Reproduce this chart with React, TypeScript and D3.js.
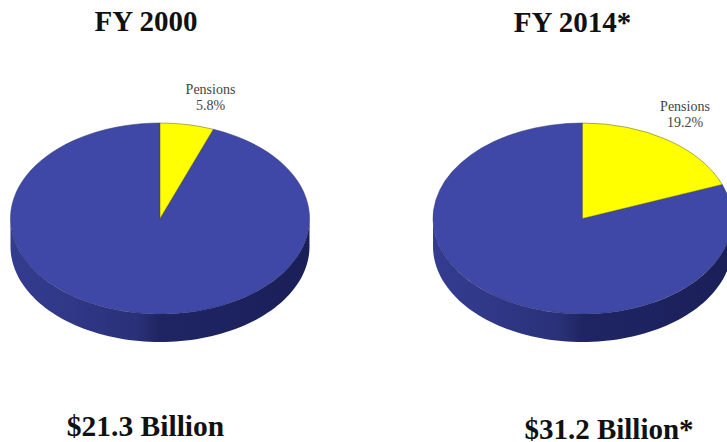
import React from "react";
import * as d3 from "d3";

const W = 727;
const H = 442;

const years = ["FY 2000", "FY 2014*"];
const totals = ["$21.3 Billion", "$31.2 Billion*"];
const sliceName = "Pensions";
const pensionShare = [5.8, 19.2];

const titleX = [146, 572.5];
const titleY = [31, 32];
const totalX = [145.5, 609];
const totalY = [436, 438.5];
const totalSize = [29.5, 29];
const labelX = [210.5, 685];
const labelY = [94, 111];
const centerX = [160, 582.5];
const radiusX = [149.5, 149.5];

const centerY = 218.5;
const radiusY = 95.5;
const depth = 28;

const BLUE = "#3f48a6";
const YELLOW = "#ffff00";

const wallStops = [
  { at: 0, color: "#343c90" },
  { at: 0.22, color: "#2f3786" },
  { at: 0.42, color: "#2a3178" },
  { at: 0.5, color: "#1f2562" },
  { at: 0.72, color: "#1d2360" },
  { at: 1, color: "#1a1f58" },
];

const wallAngles = d3.range(0, 181, 2).map((d) => (d * Math.PI) / 180);

const Pie3D: React.FC<{ index: number }> = ({ index }) => {
  const rx = radiusX[index];
  const share = pensionShare[index];
  const pie = d3.pie<number>().sort(null)([share, 100 - share]);
  const arc = d3.arc<d3.PieArcDatum<number>>().innerRadius(0).outerRadius(rx);
  const wall = d3
    .area<number>()
    .x((a) => rx * Math.cos(a))
    .y0((a) => radiusY * Math.sin(a))
    .y1((a) => radiusY * Math.sin(a) + depth);
  const gradId = `wall-${index}`;

  return (
    <g transform={`translate(${centerX[index]},${centerY})`}>
      <defs>
        <linearGradient id={gradId} x1="0" x2="1" y1="0" y2="0">
          {wallStops.map((s) => (
            <stop key={s.at} offset={s.at} stopColor={s.color} />
          ))}
        </linearGradient>
      </defs>
      <path d={wall(wallAngles) ?? ""} fill={`url(#${gradId})`} />
      <g transform={`scale(1,${radiusY / rx})`}>
        <path d={arc(pie[1]) ?? ""} fill={BLUE} stroke="#2a2f66" strokeWidth={0.6} />
        <path d={arc(pie[0]) ?? ""} fill={YELLOW} stroke="#55552a" strokeWidth={0.6} />
      </g>
    </g>
  );
};

export default function App() {
  return (
    <svg
      width={W}
      height={H}
      viewBox={`0 0 ${W} ${H}`}
      style={{ position: "absolute", left: 0, top: 0, background: "#fff" }}
    >
      {years.map((year, i) => (
        <g key={year}>
          <Pie3D index={i} />
          <text
            x={titleX[i]}
            y={titleY[i]}
            textAnchor="middle"
            fontFamily="'Liberation Serif', serif"
            fontWeight="bold"
            fontSize={29}
            fill="#111"
          >
            {year}
          </text>
          <text
            x={totalX[i]}
            y={totalY[i]}
            textAnchor="middle"
            fontFamily="'Liberation Serif', serif"
            fontWeight="bold"
            fontSize={totalSize[i]}
            fill="#111"
          >
            {totals[i]}
          </text>
          <text
            textAnchor="middle"
            fontFamily="'Liberation Serif', serif"
            fontSize={14}
            fill="#444"
          >
            <tspan x={labelX[i]} y={labelY[i]}>
              {sliceName}
            </tspan>
            <tspan x={labelX[i]} dy={15.5}>
              {pensionShare[i]}%
            </tspan>
          </text>
        </g>
      ))}
    </svg>
  );
}
